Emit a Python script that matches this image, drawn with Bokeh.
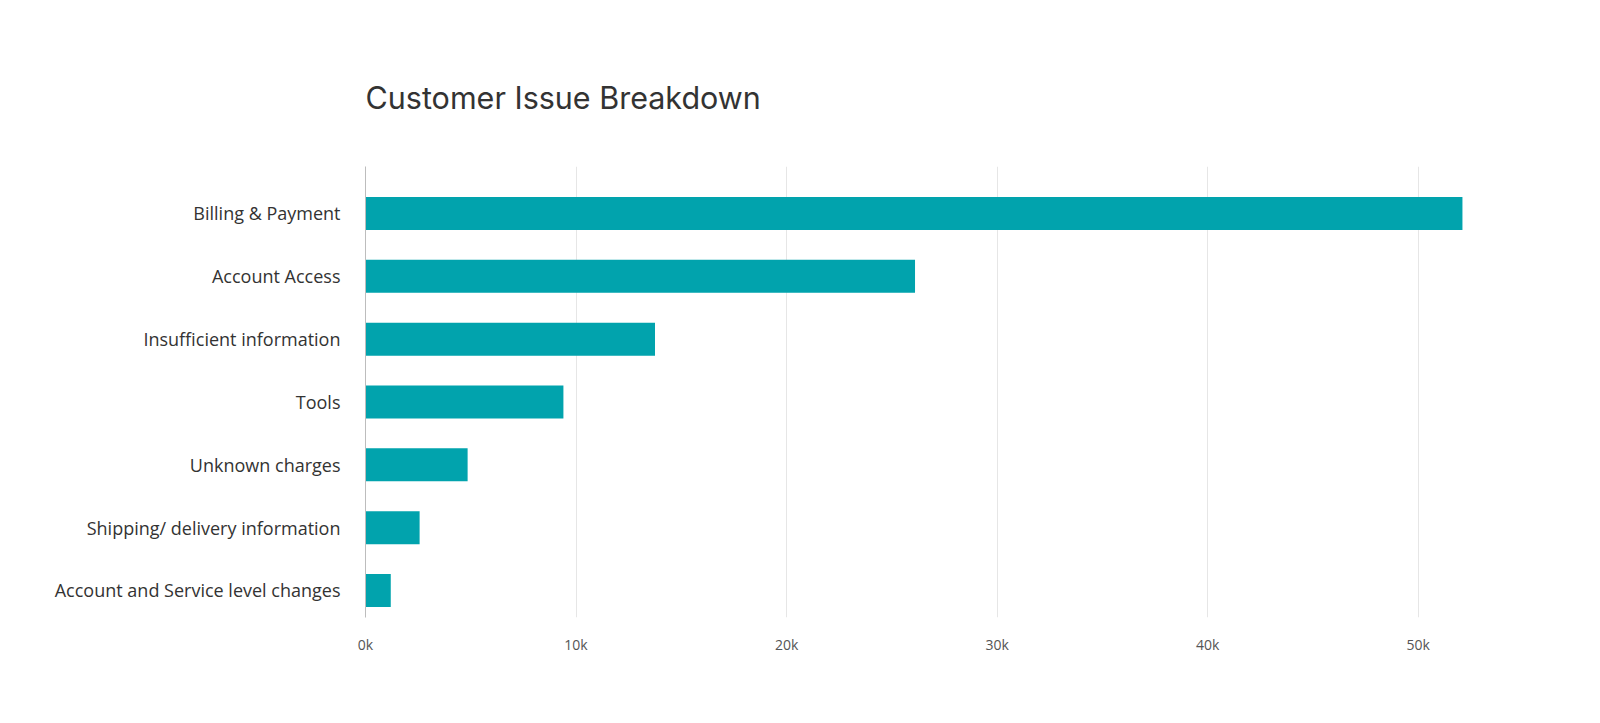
import numpy as np
from bokeh.plotting import figure
from bokeh.models import ColumnDataSource, Range1d, FixedTicker, Title
from bokeh.embed import file_html
from bokeh.resources import INLINE

categories = [
    "Billing & Payment",
    "Account Access",
    "Insufficient information",
    "Tools",
    "Unknown charges",
    "Shipping/ delivery information",
    "Account and Service level changes",
]
counts = [52100, 26100, 13750, 9400, 4850, 2570, 1200]
x_ticks = [0, 10000, 20000, 30000, 40000, 50000]
x_tick_labels = ["0k", "10k", "20k", "30k", "40k", "50k"]

n = len(categories)
ypos = [n - 1 - i for i in range(n)]
src = ColumnDataSource(dict(y=ypos, v=counts, cat=categories))

p = figure(width=1584, height=700, output_backend="svg", toolbar_location=None,
           x_range=Range1d(0, 55000), y_range=Range1d(-0.43, n - 1 + 0.748),
           min_border_left=365, min_border_right=61, min_border_top=166,
           min_border_bottom=83, outline_line_color=None)

p.hbar(y="y", left=0, right="v", height=0.525, source=src,
       fill_color="#01A3AD", line_color=None)

t = Title(text="Customer Issue Breakdown", align="left", text_font="Inter",
          text_font_size="30.5px", text_font_style="normal", text_color="#333333",
          standoff=102)
p.title = t

p.xaxis.ticker = FixedTicker(ticks=x_ticks)
p.xaxis.major_label_overrides = {t_: l for t_, l in zip(x_ticks, x_tick_labels)}
p.xaxis.axis_line_color = None
p.xaxis.major_tick_line_color = None
p.xaxis.minor_tick_line_color = None
p.xaxis.major_label_standoff = 11
p.xaxis.major_label_text_font = "Open Sans"
p.xaxis.major_label_text_font_size = "14px"
p.xaxis.major_label_text_color = "#555555"

p.yaxis.ticker = FixedTicker(ticks=ypos)
p.yaxis.major_label_overrides = {y: c for y, c in zip(ypos, categories)}
p.yaxis.axis_line_color = "#bdbdbd"
p.yaxis.axis_line_width = 1
p.yaxis.major_tick_line_color = None
p.yaxis.minor_tick_line_color = None
p.yaxis.major_label_standoff = 19
p.yaxis.major_label_text_font = "Open Sans"
p.yaxis.major_label_text_font_size = "18px"
p.yaxis.major_label_text_color = "#333333"

p.xgrid.ticker = FixedTicker(ticks=x_ticks[1:])
p.xgrid.grid_line_color = "#e6e6e6"
p.xgrid.grid_line_width = 1
p.ygrid.grid_line_color = None

open("out.html", "w").write(file_html(p, INLINE))
